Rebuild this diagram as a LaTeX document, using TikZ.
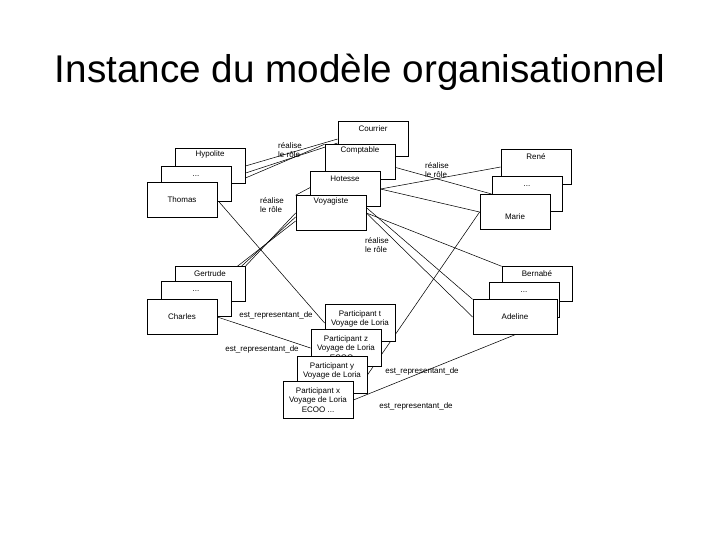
\documentclass[tikz,border=0pt]{standalone}
\usepackage{fontspec}
\setmainfont{Liberation Sans}
\pgfdeclarelayer{background}
\pgfsetlayers{background,main}
\begin{document}
\begin{tikzpicture}[x=0.75pt,y=-0.75pt,
 bx/.style={draw,fill=white,line width=0.6pt,minimum width=52.5pt,minimum height=26pt,inner sep=1pt,font=\fontsize{6}{7}\selectfont,align=center},
 tbx/.style={bx,label={[font=\fontsize{6}{7}\selectfont,yshift=-11pt]north:#1}},
 lbl/.style={font=\fontsize{6}{7}\selectfont,align=left,inner sep=1pt},
 ln/.style={line width=0.4pt}]
\useasboundingbox (0,0) rectangle (720,540);
\node at (360,72) {\fontsize{29}{34}\selectfont Instance du modèle organisationnel};
% left top stack
\node[tbx=Hypolite] (hyp) at (210,166) {};
\node[tbx=...] (ld1) at (196,184) {};
\node[bx] (tho) at (182,200) {Thomas};
% left bottom stack
\node[tbx=Gertrude] (ger) at (210,284) {};
\node[tbx=...] (ld2) at (196,299) {};
\node[bx] (cha) at (182,317) {Charles};
% roles
\node[tbx=Courrier] (cou) at (373,139) {};
\node[tbx=Comptable] (com) at (360,162) {};
\node[tbx=Hotesse] (hot) at (345,189) {};
\node[tbx=Voyagiste] (voy) at (331,213) {};
% right top
\node[tbx=René] (ren) at (536,167) {};
\node[tbx=...] (rd1) at (527,194) {};
\node[bx] (mar) at (515,212) {\\[4pt]Marie};
% right bottom
\node[tbx=Bernabé] (ber) at (537,284) {};
\node[tbx=...] (rd2) at (524,300) {};
\node[bx,minimum width=63pt] (ade) at (515,317) {Adeline};
% participants
\node[bx,minimum height=28pt] (pt) at (360,323) {Participant t\\Voyage de Loria\\ECOO ...};
\node[bx,minimum height=28pt] (pz) at (346,348) {Participant z\\Voyage de Loria\\ECOO ...};
\node[bx,minimum height=28pt] (py) at (332,375) {Participant y\\Voyage de Loria\\ECOO ...};
\node[bx,minimum height=28pt] (px) at (318,400) {Participant x\\Voyage de Loria\\ECOO ...};
% labels
\node[lbl] (l1) at (290,150) {réalise\\le rôle};
\node[lbl] (l2) at (437,170) {réalise\\le rôle};
\node[lbl] (l3) at (272,205) {réalise\\le rôle};
\node[lbl] (l4) at (377,245) {réalise\\le rôle};
\node[lbl] (e1) at (276,315) {est\_representant\_de};
\node[lbl] (e2) at (262,349) {est\_representant\_de};
\node[lbl] (e3) at (422,371) {est\_representant\_de};
\node[lbl] (e4) at (416,406) {est\_representant\_de};
\begin{pgfonlayer}{background}
\draw[ln] (hyp.east) -- (cou.west);
\draw[ln] ([yshift=8pt]hyp.south east) -- ([yshift=-3pt]cou.west);
\draw[ln] (ld1.east) -- (com.north west);
\draw[ln] (tho.east) -- (pt.west);
\draw[ln] (ger.north east) -- (voy.west);
\draw[ln] ([xshift=-3pt]ger.north east) -- ([yshift=-3pt]voy.west);
\draw[ln] ([xshift=-6pt]ger.north east) -- ([yshift=-6pt]voy.west);
\draw[ln] (com.south west) -- (voy.north west);
\draw[ln] (hot.east) -- (ren.west);
\draw[ln] (hot.east) -- (mar.west);
\draw[ln] ([yshift=6pt]hot.north east) -- (rd1.west);
\draw[ln] (voy.east) -- (ber.north west);
\draw[ln] (voy.east) -- (ade.west);
\draw[ln] ([yshift=4pt]voy.east) -- (ade.north west);
\draw[ln] (mar.west) -- (py.east);
\draw[ln] (cha.east) -- (pz.west);
\draw[ln] (ade.south) -- (px.east);
\end{pgfonlayer}
\end{tikzpicture}
\end{document}
